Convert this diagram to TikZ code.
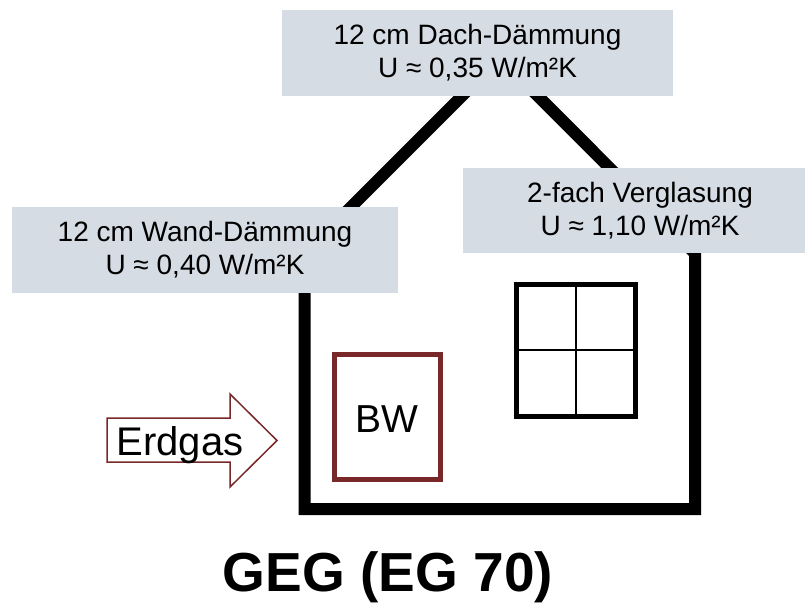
\documentclass[tikz,border=0pt]{standalone}
\usepackage{fontspec}
\setmainfont{Liberation Sans}
\definecolor{boxgray}{RGB}{214,220,228}
\definecolor{bwred}{RGB}{120,40,40}
\begin{document}
\begin{tikzpicture}[x=1pt,y=-1pt,
  infobox/.style={fill=boxgray, draw=none, align=center, inner sep=0pt,
    font=\fontsize{28}{33}\selectfont},
  housewall/.style={line width=12pt, draw=black, line join=miter},
  window/.style={line width=4.7pt, draw=black},
  pane/.style={line width=2pt, draw=black},
  bwbox/.style={line width=5pt, draw=bwred},
  gasarrow/.style={line width=1.5pt, draw=bwred, fill=white, line join=miter}]
\useasboundingbox (0,0) rectangle (805,603);
% house
\coordinate (hl) at (304.5,253.5);
\coordinate (apex) at (500,58);
\coordinate (hr) at (695,253.5);
\coordinate (br) at (695,509);
\coordinate (bl) at (304.5,509);
\draw[housewall] (hl) -- (apex) -- (hr) -- (br) -- (bl) -- cycle;
% window
\coordinate (w1) at (516.5,284.5);
\coordinate (w2) at (635.5,416.5);
\coordinate (wt) at (576,284.5);
\coordinate (wb) at (576,416.5);
\coordinate (wl) at (516.5,350);
\coordinate (wr) at (635.5,350);
\draw[pane] (wt) -- (wb);
\draw[pane] (wl) -- (wr);
\draw[window] (w1) rectangle (w2);
% BW box
\coordinate (b1) at (334.5,354.5);
\coordinate (b2) at (440.5,479.5);
\draw[bwbox] (b1) rectangle (b2);
\node[anchor=base, inner sep=0pt, font=\fontsize{39}{44}\selectfont] (bw) at (387,432) {BW};
% gas arrow
\draw[gasarrow] (107,418) -- (230,418) -- (230,394) -- (277,440.5) -- (230,487) -- (230,462) -- (107,462) -- cycle;
\node[anchor=base, inner sep=0pt, font=\fontsize{40}{44}\selectfont] (erdgas) at (180,455) {Erdgas};
% info boxes
\node[infobox, minimum width=391pt, minimum height=86pt] (dach) at (477.5,53)
  {12 cm Dach-Dämmung\\U ≈ 0,35 W/m²K};
\node[infobox, minimum width=386pt, minimum height=86pt] (wand) at (205,250)
  {12 cm Wand-Dämmung\\U ≈ 0,40 W/m²K};
\node[infobox, minimum width=354pt, minimum height=85pt] (glas) at (640,210.5)
  {2-fach Verglasung\\U ≈ 1,10 W/m²K};
% title
\node[anchor=base, inner sep=0pt, font=\fontsize{55}{60}\selectfont\bfseries] (title) at (388,591) {GEG (EG 70)};
\end{tikzpicture}
\end{document}
